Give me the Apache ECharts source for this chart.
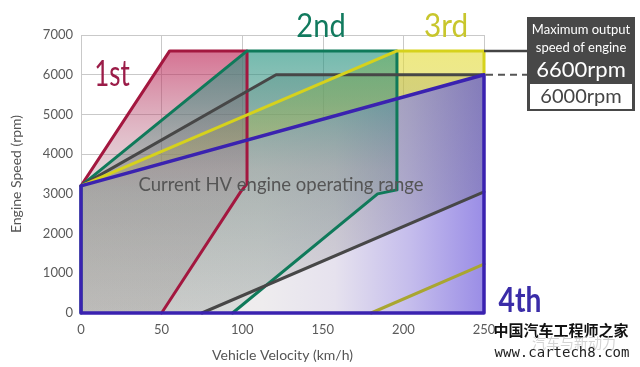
<!DOCTYPE html>
<html><head><meta charset="utf-8">
<script src="https://cdn.jsdelivr.net/npm/echarts@6/dist/echarts.min.js"></script>
<style>html,body{margin:0;padding:0;background:#fff}#c{width:640px;height:367px}</style>
</head><body><div id="c"></div>
<script>
// ---- data (km/h, rpm) ----
const xTicks = [0, 50, 100, 150, 200, 250];
const yTicks = [0, 1000, 2000, 3000, 4000, 5000, 6000, 7000];
const maxOutputRpm = 6600;
const limitRpm = 6000;
const gear1 = [[0, 3200], [55, 6600], [103, 6600], [103, 3250], [99, 3050], [50, 0]];
const gear2 = [[0, 3200], [103, 6600], [196, 6600], [196, 3100], [184, 3000], [94, 0]];
const gear2Edge = [[0, 0], [0, 3200]];
const gear3Upper = [[0, 3200], [196, 6600], [250, 6600], [250, 6000]];
const gear3Lower = [[180, 0], [250, 1230]];
const hvUpper = [[0, 3200], [121, 6000], [250, 6000]];
const hvLower = [[75, 0], [250, 3050]];
const gear4 = [[0, 0], [0, 3200], [250, 6000], [250, 0], [0, 0]];
const gearNames = ['1st', '2nd', '3rd', '4th'];
const hvText = 'Current HV engine operating range';
const boxTexts = ['Maximum output', 'speed of engine', '6600rpm', '6000rpm'];

// polygons built from the lines
const origin = [0, 0];
const poly1 = gear1.concat([origin]);
const poly2 = gear2.concat([origin]);
const poly3Top = gear3Upper.concat([[0, 3200]]);          // yellow zone above the 4th-gear line
const polyHV = hvUpper.concat(hvLower.slice().reverse(), [origin]);
const poly4 = gear4;

const LG = (x0, y0, x1, y1, stops) => new echarts.graphic.LinearGradient(x0, y0, x1, y1,
  stops.map(s => ({offset: s[0], color: s[1]})));

function polyFill(points, fill, z) {
  return {
    type: 'custom', coordinateSystem: 'cartesian2d', data: [points[0]], z: z, silent: true, clip: false,
    animation: false,
    renderItem: (params, api) => ({
      type: 'polygon', shape: {points: points.map(p => api.coord(p))}, style: {fill: fill}
    })
  };
}
function lineS(data, color, width, z) {
  return {
    type: 'line', data: data, symbol: 'none', showSymbol: false, clip: false, silent: true, animation: false,
    lineStyle: {color: color, width: width, join: 'round', cap: 'round'}, z: z
  };
}

const chart = echarts.init(document.getElementById('c'), null, {renderer: 'canvas'});
const FONT = 'Lato';
const option = {
  animation: false,
  backgroundColor: '#ffffff',
  grid: {left: 81, right: 156, top: 35, bottom: 52, containLabel: false},
  xAxis: {
    type: 'value', min: 0, max: 250, interval: 50,
    name: 'Vehicle Velocity (km/h)', nameLocation: 'middle', nameGap: 35,
    nameTextStyle: {color: '#555', fontSize: 14, fontFamily: FONT},
    axisLine: {show: false}, axisTick: {show: false},
    axisLabel: {color: '#5a5a5a', fontSize: 13, fontFamily: FONT, margin: 10,
      formatter: v => xTicks.includes(v) ? String(v) : ''},
    splitLine: {show: true, lineStyle: {color: '#c9c9c9', width: 1}}
  },
  yAxis: {
    type: 'value', min: 0, max: 7000, interval: 1000,
    name: 'Engine Speed (rpm)', nameLocation: 'middle', nameGap: 58, nameRotate: 90,
    nameTextStyle: {color: '#555', fontSize: 14, fontFamily: FONT},
    axisLine: {show: false}, axisTick: {show: false},
    axisLabel: {color: '#5a5a5a', fontSize: 13, fontFamily: FONT, margin: 8,
      formatter: v => yTicks.includes(v) ? String(v) : ''},
    splitLine: {show: true, lineStyle: {color: '#c9c9c9', width: 1}}
  },
  series: [
    polyFill(poly4, LG(0, 0, 1, 0, [[0, '#efe9e7'], [0.45, '#eeecee'], [0.63, '#e6e2ee'], [0.82, '#c4bcec'], [1, '#9a8de6']]), 1),
    polyFill(polyHV, LG(0, 0, 0, 1, [[0, 'rgba(78,82,82,0.3)'], [0.5, 'rgba(80,85,85,0.22)'], [1, 'rgba(90,90,90,0.12)']]), 2),
    polyFill(poly3Top, LG(0, 0, 0, 1, [[0, 'rgba(228,220,55,0.62)'], [1, 'rgba(205,200,80,0.45)']]), 3),
    polyFill(poly1, LG(0, 0, 0, 1, [[0, 'rgba(190,35,85,0.64)'], [0.32, 'rgba(180,90,120,0.4)'], [0.55, 'rgba(165,130,140,0.28)'], [1, 'rgba(150,138,138,0.24)']]), 4),
    polyFill(poly2, LG(0, 0, 0, 1, [[0, 'rgba(40,150,130,0.65)'], [0.2, 'rgba(55,140,125,0.5)'], [0.45, 'rgba(100,130,120,0.3)'], [1, 'rgba(120,145,135,0.18)']]), 5),
    lineS(gear1, '#a3173f', 3, 10),
    lineS(gear2, '#0f7a5a', 3, 11),
    lineS(gear2Edge, '#0f7a5a', 3, 11),
    lineS(hvUpper, '#474747', 3, 12),
    lineS(hvLower, '#474747', 3, 12),
    lineS(gear3Upper, '#d6d21c', 3, 13),
    lineS(gear3Lower, '#a9a630', 3, 13),
    lineS(gear4, '#3a22b0', 3.5, 14)
  ]
};
chart.setOption(option);

// connector lines and label box placed from axis coordinates
const pMax = chart.convertToPixel({gridIndex: 0}, [250, maxOutputRpm]);
const pLim = chart.convertToPixel({gridIndex: 0}, [250, limitRpm]);
const boxX = 527;
chart.setOption({
  graphic: [
    {type: 'line', z: 20, shape: {x1: pMax[0], y1: pMax[1], x2: boxX, y2: pMax[1]}, style: {stroke: '#444', lineWidth: 2.5}},
    {type: 'line', z: 20, shape: {x1: pLim[0] + 2, y1: pLim[1], x2: boxX, y2: pLim[1]}, style: {stroke: '#555', lineWidth: 2, lineDash: [7, 5]}},
    {type: 'rect', z: 20, shape: {x: boxX, y: 17, width: 108, height: 94}, style: {fill: '#484848'}},
    {type: 'rect', z: 21, shape: {x: 530, y: 84, width: 102, height: 25}, style: {fill: '#ffffff'}},
    {type: 'text', z: 22, x: 581, y: 30, style: {text: boxTexts[0], fill: '#fff', font: '13px Lato', textAlign: 'center', textVerticalAlign: 'middle'}},
    {type: 'text', z: 22, x: 581, y: 48, style: {text: boxTexts[1], fill: '#fff', font: '13px Lato', textAlign: 'center', textVerticalAlign: 'middle'}},
    {type: 'text', z: 22, x: 581, y: 70, style: {text: boxTexts[2], fill: '#fff', font: '22px Lato', textAlign: 'center', textVerticalAlign: 'middle'}},
    {type: 'text', z: 22, x: 581, y: 97, style: {text: boxTexts[3], fill: '#444', font: '20px Lato', textAlign: 'center', textVerticalAlign: 'middle'}},
    {type: 'text', z: 22, x: 112, y: 74, scaleX: 0.72, style: {text: gearNames[0], fill: '#9b1c48', font: '36px Lato', textAlign: 'center', textVerticalAlign: 'middle'}},
    {type: 'text', z: 22, x: 321, y: 26, scaleX: 0.88, style: {text: gearNames[1], fill: '#117a5e', font: '33px Lato', textAlign: 'center', textVerticalAlign: 'middle'}},
    {type: 'text', z: 22, x: 446, y: 26, scaleX: 0.9, style: {text: gearNames[2], fill: '#c8c62c', font: '33px Lato', textAlign: 'center', textVerticalAlign: 'middle'}},
    {type: 'text', z: 22, x: 520, y: 301, scaleX: 0.83, style: {text: gearNames[3], fill: '#3a2ca8', font: 'bold 34px Lato', textAlign: 'center', textVerticalAlign: 'middle'}},
    {type: 'text', z: 22, x: 281, y: 185, style: {text: hvText, fill: '#555', font: '18.5px Lato', textAlign: 'center', textVerticalAlign: 'middle'}},
    {type: 'text', z: 23, x: 561, y: 330, style: {text: '中国汽车工程师之家', fill: '#111', font: 'bold 15px "Noto Sans CJK SC"', textAlign: 'center', textVerticalAlign: 'middle'}},
    {type: 'text', z: 23, x: 574, y: 343, style: {text: '汽车与新动力', fill: '#d4d4d4', font: '14px "Noto Sans CJK SC"', textAlign: 'center', textVerticalAlign: 'middle'}},
    {type: 'text', z: 23, x: 562, y: 353, style: {text: 'www.cartech8.com', fill: '#222', font: '14px "DejaVu Sans Mono"', textAlign: 'center', textVerticalAlign: 'middle'}}
  ]
});
</script></body></html>
